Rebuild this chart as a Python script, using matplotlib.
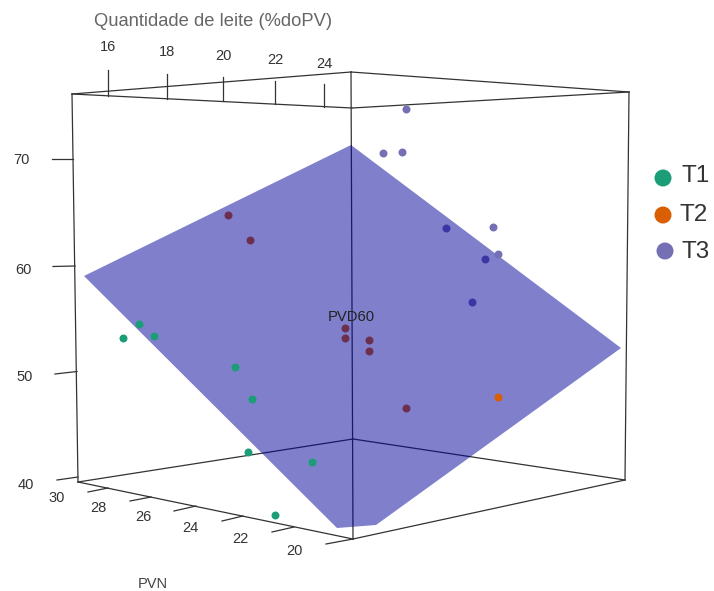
import matplotlib
matplotlib.use("Agg")
import matplotlib.pyplot as plt

plt.rcParams['font.family'] = ['Liberation Sans', 'DejaVu Sans']

# positions (pixels of the 714x591 image)
# box corners
top_left = (72, 94)
top_back = (351, 72)
top_front = (352, 108)
top_right = (629, 92)
bot_left = (78, 482)
bot_back = (353, 439)
bot_front = (353, 539)
bot_right = (625, 480)

box_edges = [
    (top_left, top_back), (top_left, top_front), (top_back, top_right), (top_front, top_right),
    (bot_left, bot_back), (bot_left, bot_front), (bot_back, bot_right), (bot_front, bot_right),
    (top_left, bot_left), (top_right, bot_right), (top_back, bot_front),
]

plane_x = [84, 351, 621, 376, 337]
plane_y = [276, 145, 348, 525, 528]

# points in front of the plane
t1_x = [123, 139, 154, 235, 252, 248, 312, 275]
t1_y = [338, 324, 336, 367, 399, 452, 462, 515]
t2_x = [498]
t2_y = [397]
t3_x = [406, 383, 402, 493, 498]
t3_y = [109, 153, 152, 227, 254]

# points behind the plane
t2_back_x = [228, 250, 345, 345, 369, 369, 406]
t2_back_y = [215, 240, 328, 338, 340, 351, 408]
t3_back_x = [446, 485, 472]
t3_back_y = [228, 259, 302]

# leite axis
leite_labels = ["16", "18", "20", "22", "24"]
leite_tick_x = [108, 167, 223, 275, 324]
leite_tick_y0 = [96, 99, 101, 104, 107]
leite_tick_y1 = [70, 74, 77, 81, 84]
leite_label_y = [47, 52, 56, 60, 64]

# PVD60 axis
pvd_labels = ["70", "60", "50", "40"]
pvd_tick_x0 = [52, 53, 55, 57]
pvd_tick_x1 = [73, 75, 77, 78]
pvd_tick_y0 = [159, 266.5, 374, 480]
pvd_tick_y1 = [159, 266, 371.5, 477]
pvd_label_x = [21, 23, 25, 26]
pvd_label_y = [160.5, 270, 377, 485]

# PVN axis
pvn_labels = ["30", "28", "26", "24", "22", "20"]
pvn_tick_x0 = [88, 130, 174, 222, 272, 326]
pvn_tick_y0 = [492, 501, 511, 521, 532, 544]
pvn_tick_x1 = [108, 151, 196, 243, 294, 353]
pvn_tick_y1 = [488, 497, 506, 516, 527, 539]
pvn_label_x = [57, 98, 143, 190, 240, 294]
pvn_label_y = [498, 508, 517, 528, 539, 551]

legend_labels = ["T1", "T2", "T3"]
legend_colors = ["#1B9E77", "#D95F02", "#7570B3"]
legend_x = [663, 663, 665]
legend_y = [178, 215, 251]
legend_text_x = [682, 680, 682]
legend_text_y = [176, 215, 252]

line_col = "#333333"
text_col = "#333333"

fig = plt.figure(figsize=(7.14, 5.91), dpi=100)
ax = fig.add_axes([0, 0, 1, 1])
ax.set_xlim(0, 714)
ax.set_ylim(591, 0)
ax.axis("off")

for a, b in box_edges:
    ax.plot([a[0], b[0]], [a[1], b[1]], color=line_col, lw=0.9, zorder=1)

for i in range(len(leite_labels)):
    ax.plot([leite_tick_x[i], leite_tick_x[i]], [leite_tick_y0[i], leite_tick_y1[i]],
            color=line_col, lw=0.9, zorder=1)
    ax.text(leite_tick_x[i], leite_label_y[i], leite_labels[i], fontsize=10.5, color=text_col,
            ha="center", va="center")

for i in range(len(pvd_labels)):
    ax.plot([pvd_tick_x0[i], pvd_tick_x1[i]], [pvd_tick_y0[i], pvd_tick_y1[i]],
            color=line_col, lw=0.9, zorder=1)
    ax.text(pvd_label_x[i], pvd_label_y[i], pvd_labels[i], fontsize=10.5, color=text_col,
            ha="center", va="center")

for i in range(len(pvn_labels)):
    ax.plot([pvn_tick_x0[i], pvn_tick_x1[i]], [pvn_tick_y0[i], pvn_tick_y1[i]],
            color=line_col, lw=0.9, zorder=1)
    ax.text(pvn_label_x[i], pvn_label_y[i], pvn_labels[i], fontsize=10.5, color=text_col,
            ha="center", va="center")

ax.scatter(t2_back_x, t2_back_y, s=33, color=legend_colors[1], linewidths=0, zorder=2)
ax.scatter(t3_back_x, t3_back_y, s=33, color=legend_colors[2], linewidths=0, zorder=2)

ax.fill(plane_x, plane_y, color="#000099", alpha=0.5, linewidth=0, zorder=3)

ax.scatter(t1_x, t1_y, s=33, color=legend_colors[0], linewidths=0, zorder=4)
ax.scatter(t2_x, t2_y, s=33, color=legend_colors[1], linewidths=0, zorder=4)
ax.scatter(t3_x, t3_y, s=33, color=legend_colors[2], linewidths=0, zorder=4)

ax.text(213, 21.5, "Quantidade de leite (%doPV)", fontsize=13.2, color="#666666",
        ha="center", va="center")
ax.text(153, 584, "PVN", fontsize=10.5, color="#444444", ha="center", va="center")
ax.text(351, 317, "PVD60", fontsize=10.7, color="#222222", ha="center", va="center", zorder=5)

ax.scatter(legend_x, legend_y, s=150, c=legend_colors, linewidths=0, zorder=4)
for i in range(len(legend_labels)):
    ax.text(legend_text_x[i], legend_text_y[i], legend_labels[i], fontsize=17.5, color=text_col,
            ha="left", va="center")

fig.savefig("out.png", dpi=100)
